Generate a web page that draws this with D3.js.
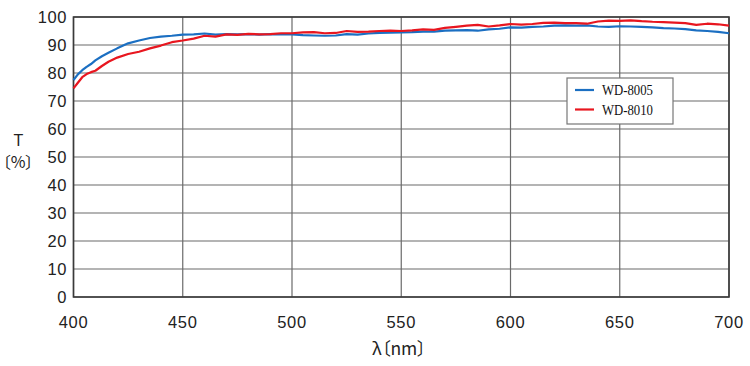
<!DOCTYPE html>
<html>
<head>
<meta charset="utf-8">
<script src="https://cdn.jsdelivr.net/npm/d3@7"></script>
<style>
html,body{margin:0;padding:0;background:#fff;}
svg{display:block;}
.cjk{font-family:"Noto Sans CJK JP","Liberation Sans",sans-serif;font-feature-settings:"palt";}
</style>
</head>
<body>
<svg id="chart" width="750" height="366"></svg>
<script>
const wavelengths = [400,402,404,406,408,410,413,416,420,425,430,435,440,445,450,455,460,465,470,475,480,485,490,495,500,505,510,515,520,525,530,535,540,545,550,555,560,565,570,575,580,585,590,595,600,605,610,615,620,625,630,635,640,645,650,655,660,665,670,675,680,685,690,695,700];
const wd8005 = [77.5,79.5,81,82.2,83.2,84.5,86,87.2,88.8,90.6,91.6,92.5,93,93.3,93.7,93.8,94.1,93.7,93.9,93.8,93.9,93.7,93.9,93.8,93.8,93.5,93.4,93.3,93.4,93.9,93.7,94.1,94.3,94.4,94.5,94.6,94.8,94.8,95.1,95.2,95.3,95.1,95.6,95.8,96.3,96.2,96.5,96.6,96.9,97.0,96.9,97.0,96.6,96.5,96.7,96.6,96.5,96.3,96.0,95.9,95.7,95.2,95.0,94.7,94.2];
const wd8010 = [74.5,76.5,78.5,79.6,80.3,80.8,82.5,84,85.5,86.8,87.6,88.8,89.8,91,91.6,92.3,93.3,93,93.8,93.6,94,93.8,93.9,94.2,94.2,94.5,94.6,94.2,94.3,95,94.7,94.8,95,95.1,95,95.2,95.6,95.4,96.1,96.5,96.9,97.2,96.6,97,97.5,97.3,97.5,97.9,98,97.8,97.8,97.6,98.4,98.7,98.6,98.8,98.5,98.3,98.2,98,97.8,97.2,97.6,97.4,96.9];
const seriesNames = ["WD-8005","WD-8010"];
const seriesColors = ["#1b6fc2","#e8161f"];
const xTicks = [400,450,500,550,600,650,700];
const yTicks = [0,10,20,30,40,50,60,70,80,90,100];

const svg = d3.select("#chart");
const pLeft = 73.5, pRight = 729, pTop = 17, pBottom = 297;
const x = d3.scaleLinear().domain([400,700]).range([pLeft,pRight]);
const y = d3.scaleLinear().domain([0,100]).range([pBottom,pTop]);

// grid
const g = svg.append("g");
g.selectAll(".hg").data(yTicks).enter().append("line")
  .attr("x1",pLeft).attr("x2",pRight)
  .attr("y1",d=>y(d)).attr("y2",d=>y(d))
  .attr("stroke","#6a6a6a").attr("stroke-width",1.2);
g.selectAll(".vg").data(xTicks).enter().append("line")
  .attr("y1",pTop).attr("y2",pBottom)
  .attr("x1",d=>x(d)).attr("x2",d=>x(d))
  .attr("stroke","#6a6a6a").attr("stroke-width",1.2);
// frame
svg.append("rect").attr("x",pLeft).attr("y",pTop).attr("width",pRight-pLeft).attr("height",pBottom-pTop)
  .attr("fill","none").attr("stroke","#3a3a3a").attr("stroke-width",1.6);

// tick labels
const tickFont = "'Liberation Sans', Arial, sans-serif";
svg.append("g").selectAll("text").data(yTicks).enter().append("text")
  .attr("x",67).attr("y",d=>y(d)+6)
  .attr("text-anchor","end")
  .attr("font-family",tickFont).attr("font-size",16.5).attr("letter-spacing","0.6px")
  .attr("fill","#222").text(d=>d);
svg.append("g").selectAll("text").data(xTicks).enter().append("text")
  .attr("x",d=>x(d)).attr("y",328)
  .attr("text-anchor","middle")
  .attr("font-family",tickFont).attr("font-size",16.5).attr("letter-spacing","0.6px")
  .attr("fill","#222").text(d=>d);

// axis titles
svg.append("text").attr("x",18.5).attr("y",146).attr("text-anchor","middle")
  .attr("font-family",tickFont).attr("font-size",16).attr("fill","#222").text("T");
svg.append("text").attr("class","cjk").attr("x",18).attr("y",168).attr("text-anchor","middle")
  .attr("font-size",16).attr("fill","#222").text("〔%〕");
svg.append("text").attr("class","cjk").attr("x",399).attr("y",355).attr("text-anchor","middle")
  .attr("font-size",17.5).attr("fill","#222").text("λ〔nm〕");

// lines
const series = [wd8005, wd8010];
const line = d3.line().x((d,i)=>x(wavelengths[i])).y(d=>y(d));
series.forEach((s,k)=>{
  svg.append("path").datum(s).attr("d",line)
    .attr("fill","none").attr("stroke",seriesColors[k]).attr("stroke-width",2.2)
    .attr("stroke-linejoin","round");
});

// legend
const lg = svg.append("g");
lg.append("rect").attr("x",567).attr("y",78).attr("width",106).attr("height",46)
  .attr("fill","#fff").attr("stroke","#777").attr("stroke-width",1.2);
seriesNames.forEach((n,k)=>{
  const ly = 90 + k*19.5;
  lg.append("line").attr("x1",575).attr("x2",594).attr("y1",ly).attr("y2",ly)
    .attr("stroke",seriesColors[k]).attr("stroke-width",2.2);
  lg.append("text").attr("x",602).attr("y",ly+5)
    .attr("font-family","'Liberation Serif','DejaVu Serif',serif").attr("font-size",14.5)
    .attr("textLength",51).attr("lengthAdjust","spacingAndGlyphs")
    .attr("fill","#111").text(n);
});
</script>
</body>
</html>
